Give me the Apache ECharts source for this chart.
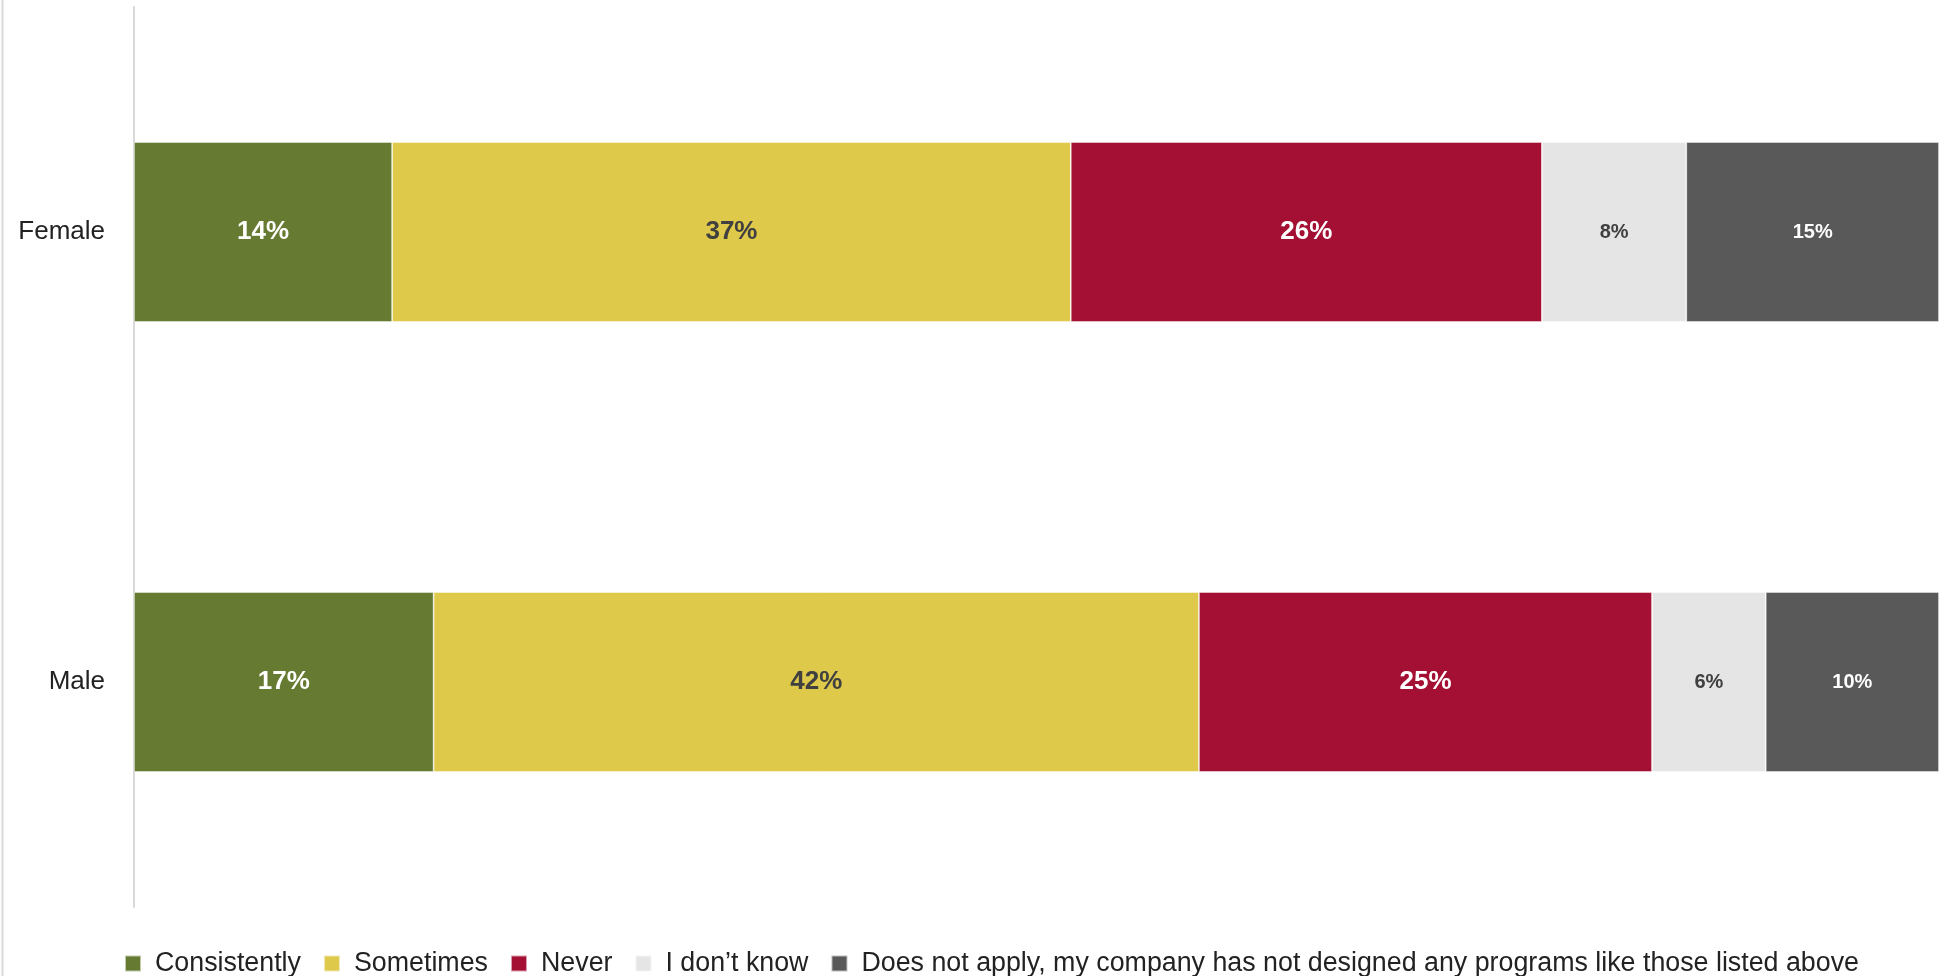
<!DOCTYPE html>
<html>
<head>
<meta charset="utf-8">
<script src="https://cdn.jsdelivr.net/npm/echarts@6/dist/echarts.min.js"></script>
<style>
html,body{margin:0;padding:0;background:#fff;}
#chart{width:1939px;height:976px;}
</style>
</head>
<body>
<div id="chart"></div>
<script>
var categories = ['Female', 'Male'];
var seriesNames = ['Consistently', 'Sometimes', 'Never', 'I don\u2019t know', 'Does not apply, my company has not designed any programs like those listed above'];
// bar lengths (share of 100%), per series: [Female, Male]
var consistently = [14.3, 16.6];
var sometimes = [37.6, 42.4];
var never = [26.1, 25.1];
var dontKnow = [8.0, 6.3];
var notApply = [14.0, 9.6];
// data labels as printed on the bars
var consistentlyLabels = ['14%', '17%'];
var sometimesLabels = ['37%', '42%'];
var neverLabels = ['26%', '25%'];
var dontKnowLabels = ['8%', '6%'];
var notApplyLabels = ['15%', '10%'];

var values = [consistently, sometimes, never, dontKnow, notApply];
var labels = [consistentlyLabels, sometimesLabels, neverLabels, dontKnowLabels, notApplyLabels];
var colors = ['#667A32', '#DEC94A', '#A31033', '#E5E5E5', '#595959'];
var labelColors = ['#ffffff', '#404040', '#ffffff', '#404040', '#ffffff'];
var labelSizes = [26, 26, 26, 20, 20];
var FONT = '"Liberation Sans", Arial, sans-serif';

var chart = echarts.init(document.getElementById('chart'), null, {renderer: 'canvas'});
var series = values.map(function (vals, i) {
  return {
    name: seriesNames[i],
    type: 'bar',
    stack: 'total',
    barWidth: '40%',
    data: vals,
    itemStyle: {color: colors[i], borderColor: 'rgba(255,255,255,0.6)', borderWidth: 0.8},
    emphasis: {disabled: true},
    label: {
      show: true,
      position: 'inside',
      fontFamily: FONT,
      fontWeight: 'bold',
      fontSize: labelSizes[i],
      color: labelColors[i],
      formatter: function (p) { return labels[i][p.dataIndex]; }
    }
  };
});

chart.setOption({
  animation: false,
  backgroundColor: '#ffffff',
  grid: {left: 134, right: 0, top: 7, bottom: 69, containLabel: false},
  xAxis: {
    type: 'value', min: 0, max: 100,
    axisLine: {show: false}, axisTick: {show: false},
    axisLabel: {show: false}, splitLine: {show: false}
  },
  yAxis: {
    type: 'category',
    data: categories,
    inverse: true,
    axisLine: {show: true, lineStyle: {color: '#D9D9D9', width: 2}},
    axisTick: {show: false},
    axisLabel: {fontFamily: FONT, fontSize: 26, color: '#222222', margin: 29}
  },
  legend: {
    left: 119,
    top: 945,
    itemWidth: 16,
    itemHeight: 16,
    itemGap: 22,
    icon: 'rect',
    selectedMode: false,
    textStyle: {fontFamily: FONT, fontSize: 26.8, color: '#222222', padding: [0, 0, 0, 9]},
    data: seriesNames
  },
  graphic: [{
    type: 'line',
    shape: {x1: 2.5, y1: 0, x2: 2.5, y2: 976},
    style: {stroke: '#D9D9D9', lineWidth: 2},
    silent: true
  }],
  series: series
});
</script>
</body>
</html>
